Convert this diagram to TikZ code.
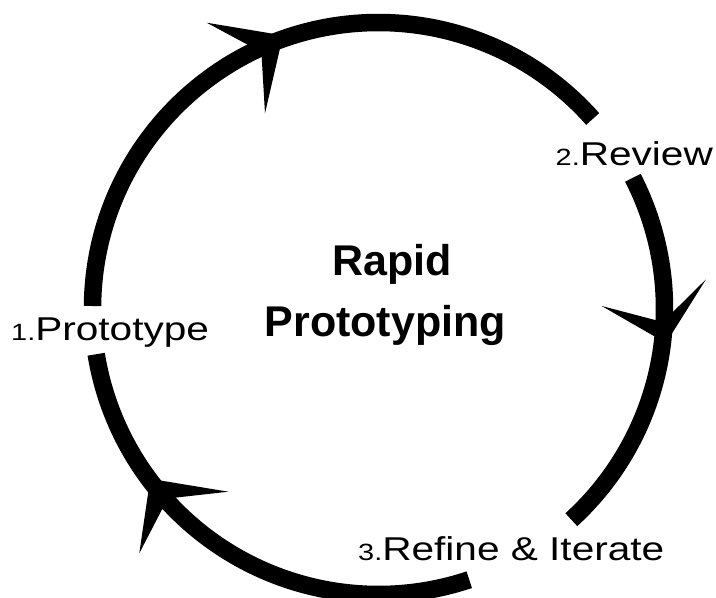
\documentclass[tikz,border=0pt]{standalone}
\usepackage{fontspec}
\setmainfont{Liberation Sans}
\newfontfamily\labelfont[FakeStretch=1.23]{Liberation Sans}
\newcommand{\stepnum}[1]{{\fontsize{23.5}{24}\selectfont #1}}
\begin{document}
\begin{tikzpicture}[x=1pt,y=-1pt,
  ring/.style={line width=17.5pt,black},
  head/.style={fill=black},
  lbl/.style={font=\labelfont\fontsize{33}{36}\selectfont, anchor=base west, inner sep=0pt},
  title/.style={font=\bfseries\fontsize{43}{48}\selectfont, anchor=base west, inner sep=0pt}]
\useasboundingbox (0,0) rectangle (716,598);
\coordinate (C) at (378.5,308.5);
% ring segments (clockwise)
\draw[ring] (C) ++(180.5:286) arc[start angle=180.5, end angle=318.5, radius=286];
\draw[ring] (C) ++(332.8:286) arc[start angle=332.8, end angle=407.6, radius=286];
\draw[ring] (C) ++(71.5:286) arc[start angle=71.5, end angle=170.8, radius=286];
% arrowheads
\fill[head] (283,35.4) -- (206.7,22.7) -- (261.4,52.1) -- (265,113.3) -- cycle;
\fill[head] (666,343) -- (601.7,306) -- (662.8,322) -- (706,279.3) -- cycle;
\fill[head] (150.2,478.8) -- (228.3,491.7) -- (167.7,498.5) -- (139.3,553.3) -- cycle;
% labels
\node[lbl] (s1) at (11,340.7) {\stepnum{1.}Prototype};
\node[lbl] (s2) at (555.5,165) {\stepnum{2.}Review};
\node[lbl] (s3) at (358,560) {\stepnum{3.}Refine \& Iterate};
\node[title] (t1) at (332,275) {Rapid};
\node[title] (t2) at (264.5,336) {Prototyping};
\end{tikzpicture}
\end{document}
